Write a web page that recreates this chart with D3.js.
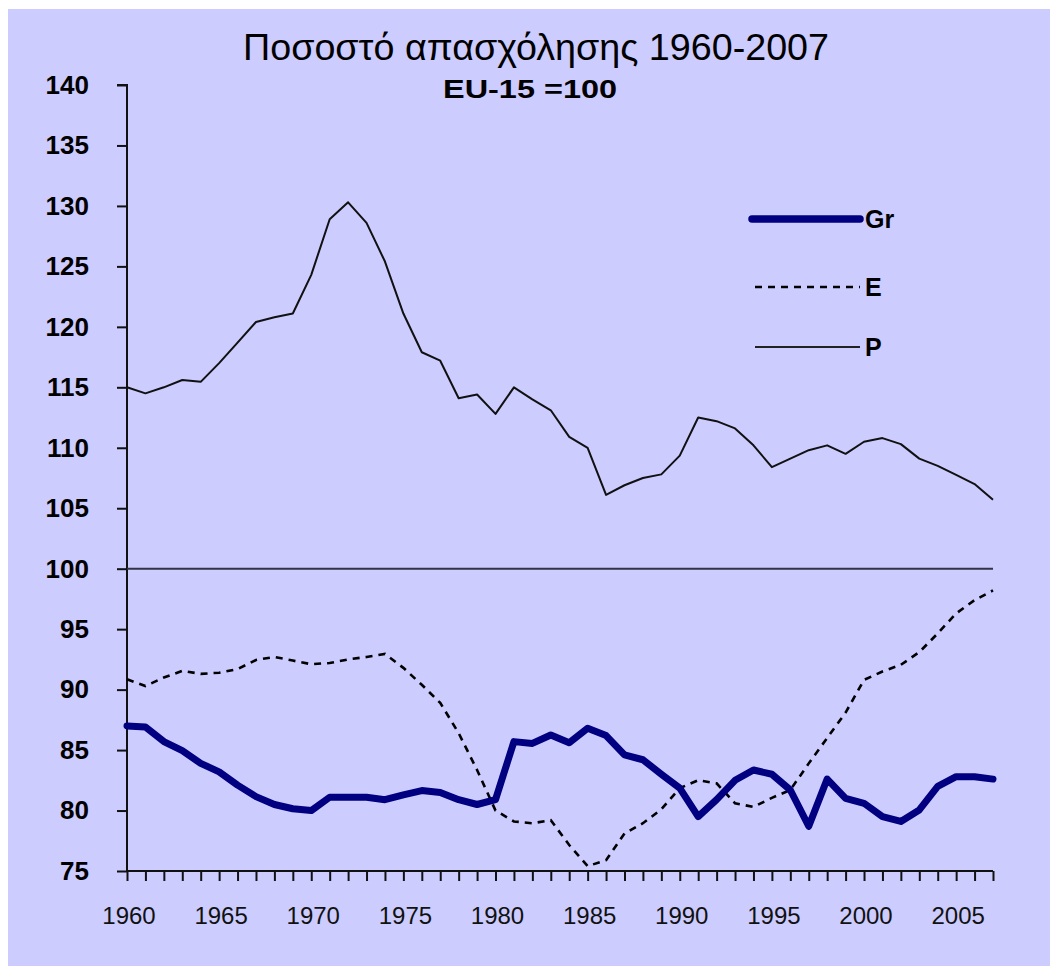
<!DOCTYPE html>
<html>
<head>
<meta charset="utf-8">
<script src="https://cdn.jsdelivr.net/npm/d3@7"></script>
<style>
  html, body { margin: 0; padding: 0; background: #ffffff; }
  svg { display: block; }
</style>
</head>
<body>
<svg id="chart" width="1050" height="966"></svg>
<script>
// ---- data ----
const years = d3.range(1960, 2008);
const greece = [87.0, 86.9, 85.7, 84.95, 83.9, 83.2, 82.1, 81.15, 80.5, 80.15,
  80.0, 81.1, 81.1, 81.1, 80.9, 81.3, 81.65, 81.5, 80.9, 80.5,
  80.9, 85.7, 85.55, 86.25, 85.6, 86.8, 86.2, 84.6, 84.2, 83.0,
  81.85, 79.5, 80.9, 82.5, 83.35, 83.0, 81.7, 78.7, 82.6, 81.0,
  80.6, 79.5, 79.1, 80.05, 82.0, 82.8, 82.8, 82.6];
const spain = [90.85, 90.3, 91.0, 91.55, 91.3, 91.4, 91.7, 92.45, 92.7, 92.4,
  92.1, 92.2, 92.5, 92.7, 92.95, 91.8, 90.4, 88.9, 86.4, 83.35,
  80.0, 79.1, 78.95, 79.2, 77.15, 75.4, 75.9, 78.1, 78.95, 80.1,
  81.85, 82.5, 82.25, 80.6, 80.3, 81.05, 81.7, 83.9, 86.0, 88.1,
  90.8, 91.5, 92.05, 93.1, 94.65, 96.3, 97.4, 98.2];
const portugal = [115.0, 114.5, 115.0, 115.6, 115.45, 117.0, 118.7, 120.4, 120.8, 121.1,
  124.3, 128.9, 130.3, 128.6, 125.4, 121.1, 117.9, 117.2, 114.1, 114.4,
  112.8, 115.0, 114.0, 113.1, 110.9, 110.0, 106.1, 106.9, 107.5, 107.8,
  109.35, 112.5, 112.2, 111.6, 110.2, 108.4, 109.1, 109.8, 110.2, 109.5,
  110.5, 110.8, 110.3, 109.1, 108.5, 107.75, 107.0, 105.7];
const seriesNames = ["Gr", "E", "P"];
const yTicks = d3.range(75, 141, 5);
const xLabelYears = d3.range(1960, 2006, 5);
const titleText = "Ποσοστό απασχόλησης 1960-2007";
const subtitleText = "EU-15 =100";
const referenceValue = 100;

// ---- layout ----
const svg = d3.select("#chart");
const bg = "#ccccff";
svg.append("rect").attr("x", 8).attr("y", 9).attr("width", 1042).attr("height", 957).attr("fill", bg);

const x = d3.scaleLinear().domain([1960, 2007]).range([127, 993]);
const y = d3.scaleLinear().domain([75, 140]).range([871, 85]);

// title
svg.append("text")
  .attr("x", 536).attr("y", 60)
  .attr("text-anchor", "middle")
  .attr("font-family", "Liberation Sans, Arial, sans-serif")
  .attr("font-size", 36)
  .attr("textLength", 586).attr("lengthAdjust", "spacingAndGlyphs")
  .attr("fill", "#000")
  .text(titleText);
svg.append("text")
  .attr("x", 530).attr("y", 98)
  .attr("text-anchor", "middle")
  .attr("font-family", "Liberation Sans, Arial, sans-serif")
  .attr("font-size", 25).attr("font-weight", "bold")
  .attr("textLength", 174).attr("lengthAdjust", "spacingAndGlyphs")
  .attr("fill", "#000")
  .text(subtitleText);

// y axis
const yAxis = d3.axisLeft(y).tickValues(yTicks).tickSize(10).tickPadding(28).tickFormat(d3.format("d"));
const gy = svg.append("g").attr("transform", `translate(${x(1960)},0)`).call(yAxis);
gy.select(".domain").attr("stroke", "#111").attr("stroke-width", 2).attr("d", `M-10,${y(140)}H0V${y(75)}`);
gy.selectAll(".tick line").attr("stroke", "#111").attr("stroke-width", 2);
gy.selectAll(".tick text")
  .attr("font-family", "Liberation Sans, Arial, sans-serif")
  .attr("font-size", 26).attr("font-weight", "bold").attr("fill", "#000");

// x axis
const xAxis = d3.axisBottom(x).tickValues(years).tickSize(10).tickFormat("");
const gx = svg.append("g").attr("transform", `translate(0,${y(75)})`).call(xAxis);
gx.select(".domain").attr("stroke", "#111").attr("stroke-width", 2).attr("d", `M${x(1960)},0H${x(2007)}`);
gx.selectAll(".tick line").attr("stroke", "#111").attr("stroke-width", 2);
gx.selectAll(".xlab").data(xLabelYears).enter().append("text")
  .attr("class", "xlab")
  .attr("x", d => x(d) + 2).attr("y", 53)
  .attr("text-anchor", "middle")
  .attr("font-family", "Liberation Sans, Arial, sans-serif")
  .attr("font-size", 24).attr("fill", "#111")
  .text(d => d);

// reference line at 100
svg.append("line")
  .attr("x1", x(1960)).attr("x2", x(2007))
  .attr("y1", y(referenceValue)).attr("y2", y(referenceValue))
  .attr("stroke", "#333344").attr("stroke-width", 2);

const line = d3.line().x((d, i) => x(years[i])).y(d => y(d));

// P
svg.append("path").datum(portugal).attr("d", line)
  .attr("fill", "none").attr("stroke", "#111").attr("stroke-width", 2).attr("stroke-linejoin", "round");
// E
svg.append("path").datum(spain).attr("d", line)
  .attr("fill", "none").attr("stroke", "#000").attr("stroke-width", 2.6).attr("stroke-dasharray", "7,6");
// Gr
svg.append("path").datum(greece).attr("d", line)
  .attr("fill", "none").attr("stroke", "#000080").attr("stroke-width", 7)
  .attr("stroke-linejoin", "round").attr("stroke-linecap", "round");

// legend
const legendItems = [
  { name: seriesNames[0], y: 219, stroke: "#000080", width: 7.5, dash: null, x1: 752, cap: "round" },
  { name: seriesNames[1], y: 287, stroke: "#000", width: 2.6, dash: "7,6", x1: 755, cap: "butt" },
  { name: seriesNames[2], y: 347, stroke: "#222", width: 2, dash: null, x1: 755, cap: "butt" }
];
const lg = svg.append("g");
legendItems.forEach(it => {
  lg.append("line").attr("x1", it.x1).attr("x2", 860).attr("y1", it.y).attr("y2", it.y)
    .attr("stroke", it.stroke).attr("stroke-width", it.width)
    .attr("stroke-dasharray", it.dash).attr("stroke-linecap", it.cap);
  lg.append("text").attr("x", 865).attr("y", it.y + 9)
    .attr("font-family", "Liberation Sans, Arial, sans-serif")
    .attr("font-size", 25).attr("font-weight", "bold").attr("fill", "#000")
    .text(it.name);
});
</script>
</body>
</html>
